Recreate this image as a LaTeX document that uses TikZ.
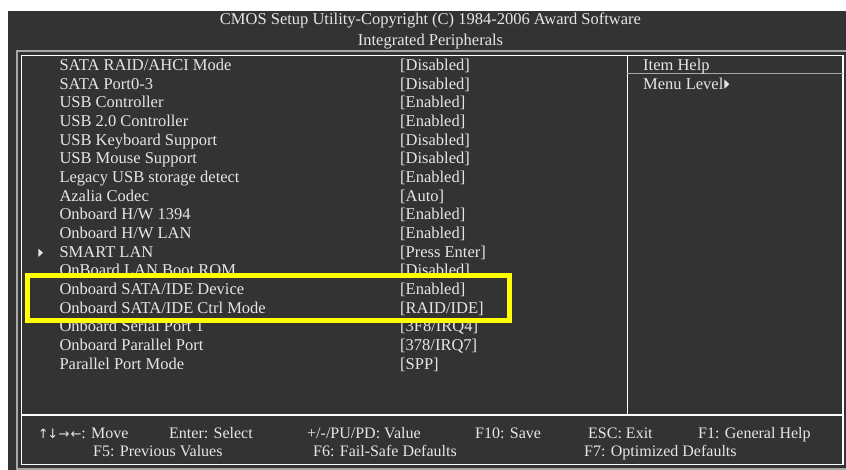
\documentclass[tikz,border=0pt]{standalone}
\usepackage{fontspec}
\setmainfont{Liberation Serif}
\newfontfamily\arrowfont{DejaVu Sans}
\definecolor{bg}{HTML}{333333}
\definecolor{frgray}{HTML}{A8A8A8}
\definecolor{txt}{HTML}{E6E6E6}
\definecolor{hl}{HTML}{FFFF00}
\tikzset{
  lbl/.style={anchor=base west, inner sep=0pt, text=txt, font=\fontsize{16.5}{18}\selectfont},
  ttl/.style={anchor=base, inner sep=0pt, text=txt, font=\fontsize{16.5}{18}\selectfont},
  ftr/.style={anchor=base west, inner sep=0pt, text=txt, font=\fontsize{16}{18}\selectfont},
  wline/.style={draw=white, line width=1.2pt},
  gline/.style={draw=frgray, line width=2pt},
  hlbox/.style={draw=hl, line width=5pt},
  tri/.style={fill=txt}
}
\begin{document}
\begin{tikzpicture}[x=1pt,y=-1pt]
\useasboundingbox (0,0) rectangle (846,470);
\fill[white] (0,0) rectangle (846,470);
\fill[bg] (8,11) rectangle (846,470);
% frames
\draw[gline] (848,50.7) -- (17,50.7) -- (17,469) -- (848,469);
\draw[wline] (21.7,55.7) rectangle (843,464.3);
\coordinate (sepL) at (21.7,415);
\coordinate (sepR) at (843,415);
\draw[wline] (sepL) -- (sepR);
\coordinate (vT) at (627.3,55.7);
\coordinate (vB) at (627.3,415);
\draw[wline] (vT) -- (vB);
\coordinate (ihL) at (627.3,73.6);
\coordinate (ihR) at (843,73.6);
\draw[gline,line width=1.8pt] (ihL) -- (ihR);
% title
\node[ttl] (t1) at (430.5,25) {CMOS Setup Utility-Copyright (C) 1984-2006 Award Software};
\node[ttl] (t2) at (430.5,45.5) {Integrated Peripherals};
% items
\node[lbl] (l0) at (59.3,70.7) {SATA RAID/AHCI Mode};
\node[lbl] (l1) at (59.3,89.35) {SATA Port0-3};
\node[lbl] (l2) at (59.3,108.0) {USB Controller};
\node[lbl] (l3) at (59.3,126.65) {USB 2.0 Controller};
\node[lbl] (l4) at (59.3,145.3) {USB Keyboard Support};
\node[lbl] (l5) at (59.3,163.95) {USB Mouse Support};
\node[lbl] (l6) at (59.3,182.6) {Legacy USB storage detect};
\node[lbl] (l7) at (59.3,201.25) {Azalia Codec};
\node[lbl] (l8) at (59.3,219.9) {Onboard H/W 1394};
\node[lbl] (l9) at (59.3,238.55) {Onboard H/W LAN};
\node[lbl] (l10) at (59.3,257.2) {SMART LAN};
\node[lbl] (l11) at (59.3,275.85) {OnBoard LAN Boot ROM};
\node[lbl] (l12) at (59.3,294.5) {Onboard SATA/IDE Device};
\node[lbl] (l13) at (59.3,313.15) {Onboard SATA/IDE Ctrl Mode};
\node[lbl] (l14) at (59.3,331.8) {Onboard Serial Port 1};
\node[lbl] (l15) at (59.3,350.45) {Onboard Parallel Port};
\node[lbl] (l16) at (59.3,369.1) {Parallel Port Mode};
% values
\node[lbl] (v0) at (400,70.7) {[Disabled]};
\node[lbl] (v1) at (400,89.35) {[Disabled]};
\node[lbl] (v2) at (400,108.0) {[Enabled]};
\node[lbl] (v3) at (400,126.65) {[Enabled]};
\node[lbl] (v4) at (400,145.3) {[Disabled]};
\node[lbl] (v5) at (400,163.95) {[Disabled]};
\node[lbl] (v6) at (400,182.6) {[Enabled]};
\node[lbl] (v7) at (400,201.25) {[Auto]};
\node[lbl] (v8) at (400,219.9) {[Enabled]};
\node[lbl] (v9) at (400,238.55) {[Enabled]};
\node[lbl] (v10) at (400,257.2) {[Press Enter]};
\node[lbl] (v11) at (400,275.85) {[Disabled]};
\node[lbl] (v12) at (400,294.5) {[Enabled]};
\node[lbl] (v13) at (400,313.15) {[RAID/IDE]};
\node[lbl] (v14) at (400,331.8) {[3F8/IRQ4]};
\node[lbl] (v15) at (400,350.45) {[378/IRQ7]};
\node[lbl] (v16) at (400,369.1) {[SPP]};
% SMART LAN pointer
\fill[tri] (38.3,248.6) -- (43,252.8) -- (38.3,257) -- cycle;
% help
\node[lbl] (ih) at (643,70.7) {Item Help};
\node[lbl] (ml) at (643,89.35) {Menu Level};
\fill[tri] ([xshift=0.8pt]ml.base east) ++(0,-0.6) -- ++(0,-9.2) -- ++(5,4.6) -- cycle;
% highlight box
\draw[hlbox] (27.5,275.2) rectangle (509.2,320.6);
% footer
\node[ftr] (f1) at (37.7,438) {{\arrowfont\fontsize{13}{14}\selectfont ↑\kern-1.5pt↓\kern0.5pt→\kern1pt←}: Move};
\node[ftr] (f2) at (169,438) {Enter: Select};
\node[ftr] (f3) at (307,438) {+/-/PU/PD: Value};
\node[ftr] (f4) at (475,438) {F10: Save};
\node[ftr] (f5) at (588,438) {ESC: Exit};
\node[ftr] (f6) at (698,438) {F1: General Help};
\node[ftr] (f7) at (93,456.7) {F5: Previous Values};
\node[ftr] (f8) at (313,456.7) {F6: Fail-Safe Defaults};
\node[ftr] (f9) at (584,456.7) {F7: Optimized Defaults};
\end{tikzpicture}
\end{document}
